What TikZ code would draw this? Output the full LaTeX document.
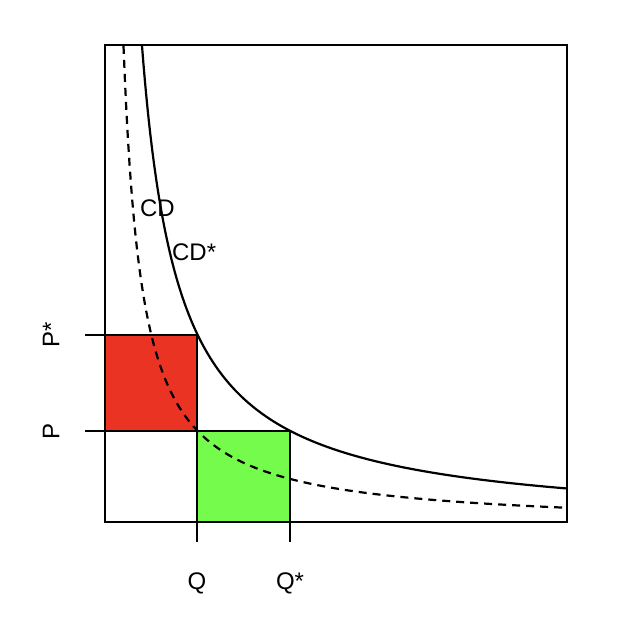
\documentclass[tikz,border=0pt]{standalone}
\usepackage{fontspec}
\setmainfont{Liberation Sans}
\usepackage{xcolor}
\usetikzlibrary{positioning}
\definecolor{lossred}{RGB}{234,51,35}
\definecolor{gaingreen}{RGB}{117,251,76}

\begin{document}
\begin{tikzpicture}[x=0.5pt,y=-0.5pt,line width=1.1pt,
  axislbl/.style={font=\fontsize{12}{14}\selectfont,inner sep=0pt},
  curvelbl/.style={font=\fontsize{12}{14}\selectfont,inner sep=0pt,anchor=west},
  oldcurve/.style={dash pattern=on 4pt off 3pt},
  tickline/.style={line width=1pt}]
  \useasboundingbox (0,0) rectangle (624,616);
  % frame and market points
  \coordinate (ll) at (105,522);
  \coordinate (ur) at (567,45);
  \coordinate (pS) at (105,335);
  \coordinate (p) at (105,431);
  \coordinate (q) at (197,522);
  \coordinate (qS) at (290,522);
  \coordinate (e) at (197,431);
  \coordinate (eS) at (197,335);
  \coordinate (eQ) at (290,431);
  \coordinate (pStick) at (85,335);
  \coordinate (ptick) at (85,431);
  \coordinate (qtick) at (197,542);
  \coordinate (qStick) at (290,542);
  % areas
  \fill[lossred] (p) rectangle (eS);
  \fill[gaingreen] (q) rectangle (eQ);
  % demand curves
  \draw[oldcurve] plot[domain=123.5:566,samples=300] (\x,{527-89/((\x-105)/100)});
  \draw plot[domain=141.9:566,samples=300] (\x,{527-178/((\x-105)/100)});
  \draw (p) rectangle (eS);
  \draw (q) rectangle (eQ);
  \draw (ll) rectangle (ur);
  % ticks
  \draw[tickline] (pS) -- (pStick);
  \draw[tickline] (p) -- (ptick);
  \draw[tickline] (q) -- (qtick);
  \draw[tickline] (qS) -- (qStick);
  % labels
  \node[axislbl,rotate=90] (pSlbl) at (51,335) {P*};
  \node[axislbl,rotate=90] (plbl) at (51,431) {P};
  \node[axislbl] (qlbl) at (197,583) {Q};
  \node[axislbl] (qSlbl) at (290,583) {Q*};
  \node[curvelbl] (cd) at (139,208) {CD};
  \node[curvelbl] (cdS) at (171,252) {CD*};
\end{tikzpicture}
\end{document}
